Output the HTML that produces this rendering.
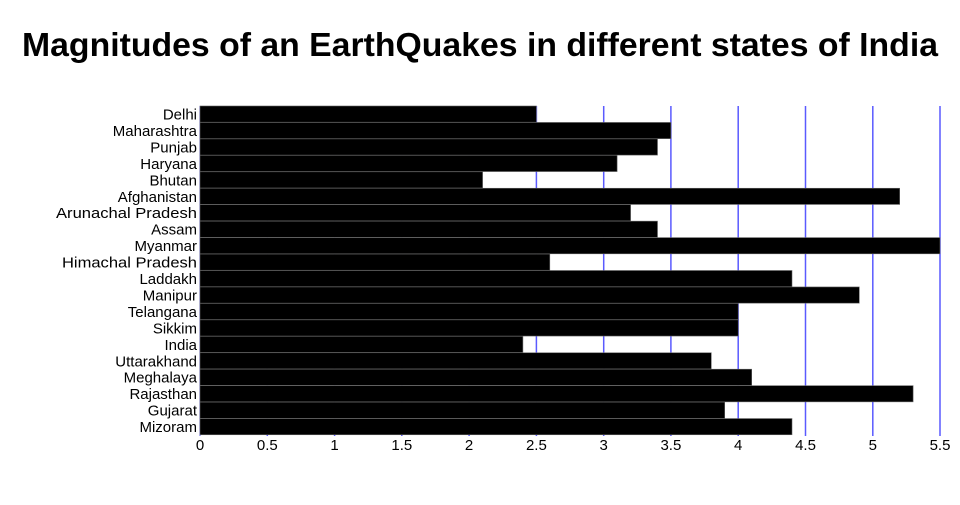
<!DOCTYPE html><html><head><style>body{margin:0;background:#fff}</style></head><body>
<svg width="960" height="500" xmlns="http://www.w3.org/2000/svg" font-family="Liberation Sans, sans-serif">
<text x="480" y="56" text-anchor="middle" font-size="33" font-weight="bold" textLength="916" lengthAdjust="spacingAndGlyphs">Magnitudes of an EarthQuakes in different states of India</text>
<g stroke="#5a5aff" stroke-width="1.5">
<line x1="200" x2="200" y1="106" y2="436" stroke-width="1"/>
<line x1="267.3" x2="267.3" y1="106" y2="436"/><line x1="334.6" x2="334.6" y1="106" y2="436"/><line x1="401.8" x2="401.8" y1="106" y2="436"/><line x1="469.1" x2="469.1" y1="106" y2="436"/><line x1="536.4" x2="536.4" y1="106" y2="436"/><line x1="603.7" x2="603.7" y1="106" y2="436"/><line x1="670.9" x2="670.9" y1="106" y2="436"/><line x1="738.2" x2="738.2" y1="106" y2="436"/><line x1="805.5" x2="805.5" y1="106" y2="436"/><line x1="872.8" x2="872.8" y1="106" y2="436"/><line x1="940" x2="940" y1="106" y2="436"/>
</g>
<g fill="#000" stroke="#666" stroke-width="0.6">
<rect x="200" y="106" width="336.4" height="16.2"/>
<rect x="200" y="122.45" width="470.9" height="16.2"/>
<rect x="200" y="138.9" width="457.5" height="16.2"/>
<rect x="200" y="155.35" width="417.1" height="16.2"/>
<rect x="200" y="171.8" width="282.6" height="16.2"/>
<rect x="200" y="188.25" width="699.7" height="16.2"/>
<rect x="200" y="204.7" width="430.6" height="16.2"/>
<rect x="200" y="221.15" width="457.5" height="16.2"/>
<rect x="200" y="237.6" width="740" height="16.2"/>
<rect x="200" y="254.05" width="349.8" height="16.2"/>
<rect x="200" y="270.5" width="592" height="16.2"/>
<rect x="200" y="286.95" width="659.3" height="16.2"/>
<rect x="200" y="303.4" width="538.2" height="16.2"/>
<rect x="200" y="319.85" width="538.2" height="16.2"/>
<rect x="200" y="336.3" width="322.9" height="16.2"/>
<rect x="200" y="352.75" width="511.3" height="16.2"/>
<rect x="200" y="369.2" width="551.7" height="16.2"/>
<rect x="200" y="385.65" width="713.1" height="16.2"/>
<rect x="200" y="402.1" width="524.7" height="16.2"/>
<rect x="200" y="418.55" width="592" height="16.2"/>
</g>
<g font-size="15" text-anchor="end">
<text x="197" y="119.5">Delhi</text>
<text x="197" y="136">Maharashtra</text>
<text x="197" y="152.4">Punjab</text>
<text x="197" y="168.9">Haryana</text>
<text x="197" y="185.3">Bhutan</text>
<text x="197" y="201.8">Afghanistan</text>
<text x="197" y="218.2" textLength="141" lengthAdjust="spacingAndGlyphs">Arunachal Pradesh</text>
<text x="197" y="234.7">Assam</text>
<text x="197" y="251.1">Myanmar</text>
<text x="197" y="267.6" textLength="135" lengthAdjust="spacingAndGlyphs">Himachal Pradesh</text>
<text x="197" y="284">Laddakh</text>
<text x="197" y="300.5">Manipur</text>
<text x="197" y="316.9">Telangana</text>
<text x="197" y="333.4">Sikkim</text>
<text x="197" y="349.8">India</text>
<text x="197" y="366.3">Uttarakhand</text>
<text x="197" y="382.7">Meghalaya</text>
<text x="197" y="399.2">Rajasthan</text>
<text x="197" y="415.6">Gujarat</text>
<text x="197" y="432.1">Mizoram</text>
</g>
<g font-size="15" text-anchor="middle">
<text x="200" y="450">0</text><text x="267.3" y="450">0.5</text><text x="334.6" y="450">1</text><text x="401.8" y="450">1.5</text><text x="469.1" y="450">2</text><text x="536.4" y="450">2.5</text><text x="603.7" y="450">3</text><text x="670.9" y="450">3.5</text><text x="738.2" y="450">4</text><text x="805.5" y="450">4.5</text><text x="872.8" y="450">5</text><text x="940" y="450">5.5</text>
</g>
</svg></body></html>
